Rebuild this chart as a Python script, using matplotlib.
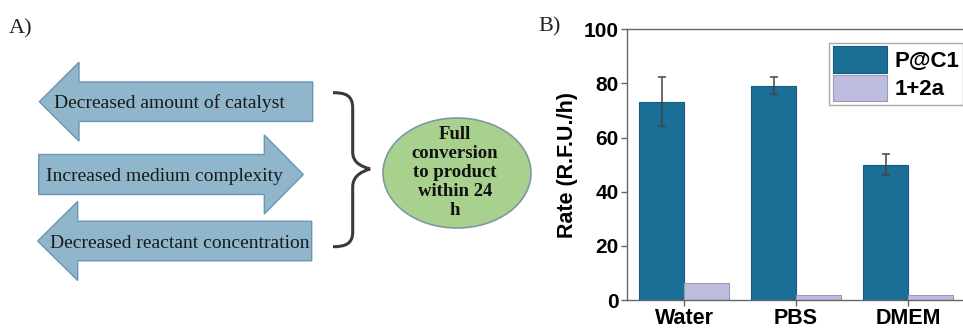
import matplotlib
matplotlib.use("Agg")
import matplotlib.pyplot as plt
import numpy as np
from matplotlib.patches import Polygon, Ellipse, PathPatch
from matplotlib.path import Path

# ---- data (panel B) ----
media = ["Water", "PBS", "DMEM"]
series_names = ["P@C1", "1+2a"]
rate_pc1 = [73.3, 79.2, 50.0]
err_pc1 = [9.0, 3.0, 4.0]
rate_12a = [6.4, 1.8, 1.8]
y_ticks = [0, 20, 40, 60, 80, 100]

# ---- panel A text ----
arrow_texts = ["Decreased amount of catalyst",
               "Increased medium complexity",
               "Decreased reactant concentration"]
outcome_text = "Full\nconversion\nto product\nwithin 24\nh"

W, H = 963, 328
fig = plt.figure(figsize=(W / 100, H / 100), dpi=100)

# Panel A drawn on a full-figure canvas in pixel units
axA = fig.add_axes([0, 0, 1, 1])
axA.set_xlim(0, W)
axA.set_ylim(H, 0)
axA.axis("off")

arrow_fc = "#8fb6cb"
arrow_ec = "#6a96b2"
serif = "Liberation Serif"


def left_arrow(x_tip, x_neck, x_end, yc, body_h, head_h):
    pts = [(x_end, yc - body_h / 2), (x_neck, yc - body_h / 2),
           (x_neck, yc - head_h / 2), (x_tip, yc),
           (x_neck, yc + head_h / 2), (x_neck, yc + body_h / 2),
           (x_end, yc + body_h / 2)]
    return Polygon(pts, closed=True, fc=arrow_fc, ec=arrow_ec, lw=1.0)


def right_arrow(x_start, x_neck, x_tip, yc, body_h, head_h):
    pts = [(x_start, yc - body_h / 2), (x_neck, yc - body_h / 2),
           (x_neck, yc - head_h / 2), (x_tip, yc),
           (x_neck, yc + head_h / 2), (x_neck, yc + body_h / 2),
           (x_start, yc + body_h / 2)]
    return Polygon(pts, closed=True, fc=arrow_fc, ec=arrow_ec, lw=1.0)


axA.add_patch(left_arrow(39.3, 79, 312.7, 101.7, 39.5, 79))
axA.add_patch(right_arrow(38.7, 264.3, 303.3, 174.5, 40, 79))
axA.add_patch(left_arrow(37.7, 77.7, 311.7, 241.0, 39.5, 79))

txt_kw = dict(family=serif, fontsize=14, color="#1a1a1a", ha="left",
              va="baseline")
axA.text(54, 108.3, arrow_texts[0], **txt_kw)
axA.text(46, 181.0, arrow_texts[1], **txt_kw)
axA.text(50, 248.3, arrow_texts[2], **txt_kw)

# curly brace
verts = [(333, 92.7),
         (345, 92.7), (352.7, 95), (352.7, 108),
         (352.7, 152),
         (352.7, 162), (360, 166), (370, 169),
         (360, 172), (352.7, 177), (352.7, 187),
         (352.7, 232),
         (352.7, 244), (345, 246.7), (333, 246.7)]
codes = [Path.MOVETO,
         Path.CURVE4, Path.CURVE4, Path.CURVE4,
         Path.LINETO,
         Path.CURVE4, Path.CURVE4, Path.CURVE4,
         Path.CURVE4, Path.CURVE4, Path.CURVE4,
         Path.LINETO,
         Path.CURVE4, Path.CURVE4, Path.CURVE4]
axA.add_patch(PathPatch(Path(verts, codes), fc="none", ec="#3a3a3a",
                        lw=2.2, capstyle="butt"))

axA.add_patch(Ellipse((457, 173), 148, 110, fc="#a9d18e", ec="#7f97a8",
                      lw=1.2))
axA.text(455, 172.7, outcome_text, family=serif, fontsize=13.5,
         fontweight="bold", ha="center", va="center", linespacing=1.15,
         color="#111111")

axA.text(9, 33, "A)", family=serif, fontsize=16, ha="left",
         va="baseline", color="#222222")
axA.text(538, 31, "B)", family=serif, fontsize=16, ha="left",
         va="baseline", color="#222222")

# ---- panel B: bar chart ----
left_px, right_px, top_px, bot_px = 627, 965, 29.3, 300
axB = fig.add_axes([left_px / W, (H - bot_px) / H,
                    (right_px - left_px) / W, (bot_px - top_px) / H])

x = np.arange(len(media))
bw = 0.4
c1 = "#1b6f96"
c2 = "#bdbde0"
axB.bar(x - bw / 2, rate_pc1, bw, color=c1, edgecolor="#155a7c",
        linewidth=0.8, label=series_names[0], zorder=2)
axB.bar(x + bw / 2, rate_12a, bw, color=c2, edgecolor="#9a9ab8",
        linewidth=0.8, label=series_names[1], zorder=2)
axB.errorbar(x - bw / 2, rate_pc1, yerr=err_pc1, fmt="none",
             ecolor="#444444", elinewidth=1.1, capsize=3, capthick=1.1,
             zorder=3)

axB.set_xlim(-0.51, 2.51)
axB.set_ylim(0, 100)
axB.set_yticks(y_ticks)
axB.set_xticks(x)
axB.set_xticklabels(media)
axB.tick_params(axis="both", direction="out", length=4, width=1,
                color="#666666", pad=2)
axB.tick_params(axis="x", pad=2)
for lab in axB.get_yticklabels():
    lab.set_family("Liberation Sans")
    lab.set_fontweight("bold")
    lab.set_fontsize(15)
for lab in axB.get_xticklabels():
    lab.set_family("Liberation Sans")
    lab.set_fontweight("bold")
    lab.set_fontsize(15.5)
axB.set_ylabel("Rate (R.F.U./h)", family="Liberation Sans",
               fontweight="bold", fontsize=15.5, labelpad=4)
for side in ["left", "top", "bottom"]:
    axB.spines[side].set_color("#666666")
    axB.spines[side].set_linewidth(1.0)
axB.spines["right"].set_visible(False)

leg = axB.legend(loc="upper right", bbox_to_anchor=(0.994, 0.95),
                 borderaxespad=0, fancybox=False, framealpha=1,
                 edgecolor="#aaaaaa",
                 prop={"family": "Liberation Sans", "weight": "bold",
                       "size": 16},
                 handlelength=2.45, handleheight=1.45, labelspacing=0.1,
                 borderpad=0.15, handletextpad=0.35)
leg.get_frame().set_linewidth(1.0)

fig.savefig("out.png", dpi=100)
